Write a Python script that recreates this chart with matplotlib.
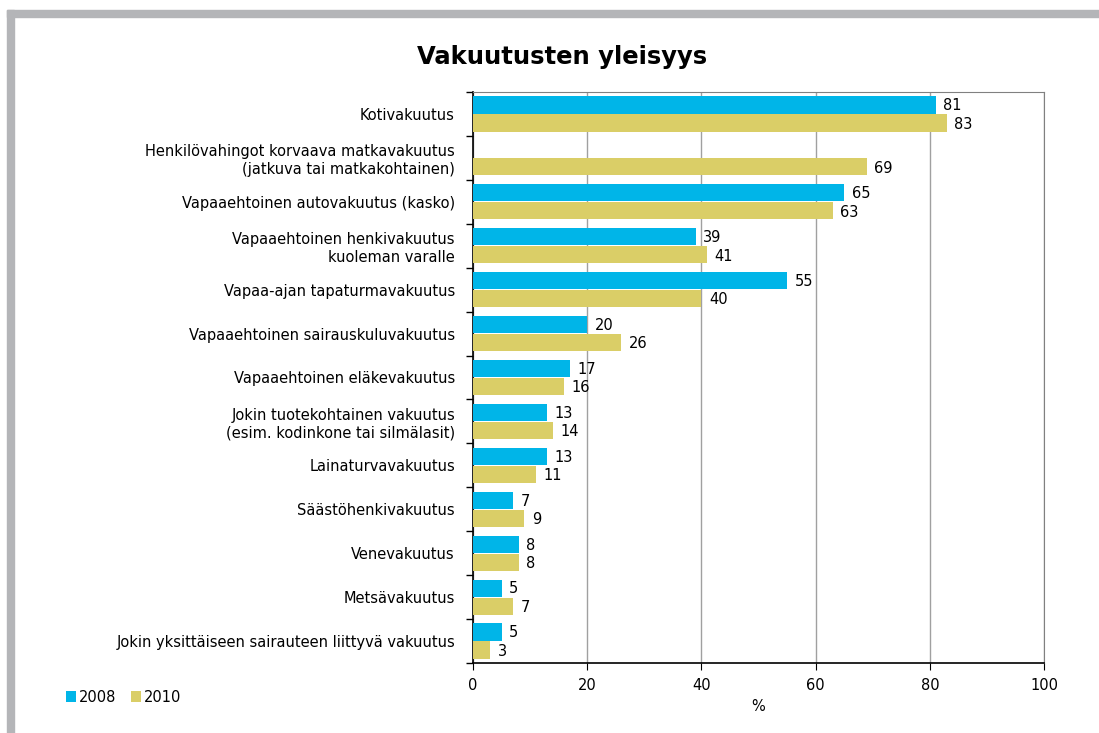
import numpy as np
import matplotlib.pyplot as plt
from matplotlib.patches import Rectangle

categories = [
    "Kotivakuutus",
    "Henkilövahingot korvaava matkavakuutus\n(jatkuva tai matkakohtainen)",
    "Vapaaehtoinen autovakuutus (kasko)",
    "Vapaaehtoinen henkivakuutus\nkuoleman varalle",
    "Vapaa-ajan tapaturmavakuutus",
    "Vapaaehtoinen sairauskuluvakuutus",
    "Vapaaehtoinen eläkevakuutus",
    "Jokin tuotekohtainen vakuutus\n(esim. kodinkone tai silmälasit)",
    "Lainaturvavakuutus",
    "Säästöhenkivakuutus",
    "Venevakuutus",
    "Metsävakuutus",
    "Jokin yksittäiseen sairauteen liittyvä vakuutus",
]
v2008 = [81, None, 65, 39, 55, 20, 17, 13, 13, 7, 8, 5, 5]
v2010 = [83, 69, 63, 41, 40, 26, 16, 14, 11, 9, 8, 7, 3]
x_ticks = [0, 20, 40, 60, 80, 100]

c2008 = "#00B5E8"
c2010 = "#DACE67"

plt.rcParams["font.family"] = ["DejaVu Sans"]

fig = plt.figure(figsize=(10.99, 7.33), dpi=100)
ax = fig.add_axes([0.4304, 0.0955, 0.5196, 0.779])

# harmaa kehys ylä- ja vasemmassa reunassa
fig.patches.append(Rectangle((7 / 1099, 1 - 17 / 733), 1 - 7 / 1099, 7 / 733,
                             transform=fig.transFigure, color="#B4B5B8", zorder=0))
fig.patches.append(Rectangle((7 / 1099, 0), 7 / 1099, 1 - 10 / 733,
                             transform=fig.transFigure, color="#B4B5B8", zorder=0))

n = len(categories)
y = np.arange(n)
h = 0.39
for i in range(n):
    if v2008[i] is not None:
        ax.barh(y[i] - h / 2 - 0.01, v2008[i], height=h, color=c2008,
                label="2008" if i == 0 else None, zorder=3)
        ax.text(v2008[i] + 1.3, y[i] - h / 2 + 0.01, str(v2008[i]),
                va="center", ha="left", fontsize=10.5)
    ax.barh(y[i] + h / 2 + 0.01, v2010[i], height=h, color=c2010,
            label="2010" if i == 0 else None, zorder=3)
    ax.text(v2010[i] + 1.3, y[i] + h / 2 + 0.04, str(v2010[i]),
            va="center", ha="left", fontsize=10.5)

ax.set_ylim(n - 0.5, -0.5)
ax.set_yticks(y)
ax.set_yticklabels(categories, fontsize=10.5, multialignment="right")
ax.set_yticks(np.arange(n + 1) - 0.5, minor=True)
ax.tick_params(axis="y", which="major", length=0, pad=13)
ax.tick_params(axis="y", which="minor", length=5, direction="out", width=1)
ax.set_xlim(0, 100)
ax.set_xticks(x_ticks)
ax.tick_params(axis="x", length=5, direction="out", labelsize=10.5, pad=6)
ax.xaxis.grid(True, color="#A0A0A0", linewidth=1)
ax.set_axisbelow(True)
for s in ["top", "right"]:
    ax.spines[s].set_color("#808080")
ax.spines["left"].set_linewidth(1.2)
ax.spines["bottom"].set_linewidth(1.2)

ax.set_xlabel("%", fontsize=10.5, labelpad=4)
fig.text(0.511, 0.922, "Vakuutusten yleisyys", ha="center", va="center",
         fontsize=17.5, fontweight="bold")

ax.legend(loc="center left", bbox_to_anchor=(0.048, 0.049), bbox_transform=fig.transFigure,
          ncol=2, frameon=False, fontsize=10.5, handlelength=0.7, handleheight=0.7,
          handletextpad=0.2, columnspacing=1.0)

fig.savefig("out.png", dpi=100)
